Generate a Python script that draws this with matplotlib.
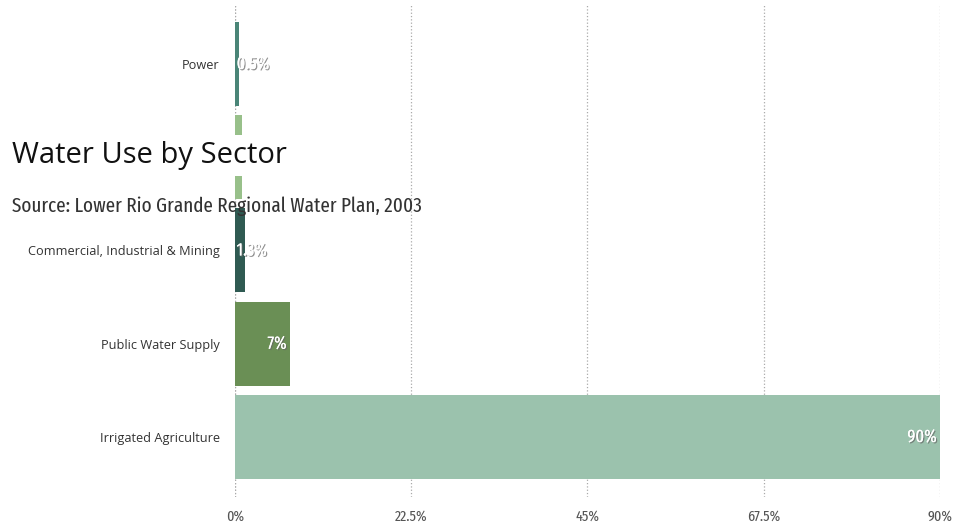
import matplotlib.pyplot as plt
import matplotlib.patheffects as pe

# data (bottom to top)
sectors = ['Irrigated Agriculture', 'Public Water Supply',
           'Commercial, Industrial & Mining', 'Livestock', 'Power']
shares = [90, 7, 1.3, 0.9, 0.5]
labels = ['90%', '7%', '1.3%', '0.9%', '0.5%']
colors = ['#9bc2ad', '#6a8f55', '#2f5a52', '#98c08a', '#4a8577']
xticks = [0, 22.5, 45, 67.5, 90]
xticklabels = ['0%', '22.5%', '45%', '67.5%', '90%']

cond = ['Fira Sans Extra Condensed', 'DejaVu Sans']
W, H = 970, 525

fig = plt.figure(figsize=(9.7, 5.25), dpi=100)
ax = fig.add_axes([235 / W, 1 - 497 / H, 705 / W, 492 / H])

ypos = list(range(len(sectors)))
ax.barh(ypos, shares, height=0.9, color=colors, zorder=2)
ax.set_xlim(0, 90)
ax.set_ylim(-0.645, 4.63)

ax.set_xticks(xticks)
ax.set_xticklabels(xticklabels, fontfamily=cond, fontweight='normal',
                   fontsize=11, color='#555555')
ax.set_yticks(ypos)
ax.set_yticklabels(sectors, fontfamily='Open Sans', fontsize=9.2, color='#333333')
ax.tick_params(axis='both', length=0)
ax.tick_params(axis='x', pad=9)
ax.tick_params(axis='y', pad=11)
ax.grid(axis='x', color='#aaaaaa', linestyle=':', linewidth=0.9, zorder=0)
for s in ax.spines.values():
    s.set_visible(False)
ax.axvline(0, color='#aaaaaa', linestyle=':', linewidth=0.9, zorder=1)

shadow = [pe.withSimplePatchShadow(offset=(0.9, -0.9), shadow_rgbFace='#666666', alpha=0.7),
          pe.Normal()]
for y, v, lab in zip(ypos, shares, labels):
    if v > 5:
        ax.text(v - 0.4, y, lab, ha='right', va='center', color='white',
                fontfamily=cond, fontweight='normal', fontsize=13,
                path_effects=shadow, zorder=3)
    else:
        ax.text(0.2, y, lab, ha='left', va='center', color='white',
                fontfamily=cond, fontweight='normal', fontsize=13,
                path_effects=shadow, zorder=3)

fig.text(12 / W, 1 - 163 / H, 'Water Use by Sector', fontfamily='Open Sans',
         fontsize=21, color='#111111', va='baseline', ha='left',
         bbox=dict(facecolor='white', edgecolor='none', pad=4), zorder=5)
fig.text(12 / W, 1 - 212 / H, 'Source: Lower Rio Grande Regional Water Plan, 2003',
         fontfamily=cond, fontweight='normal', fontsize=15, color='#333333',
         va='baseline', ha='left', zorder=5)

fig.savefig('out.png', dpi=100)
